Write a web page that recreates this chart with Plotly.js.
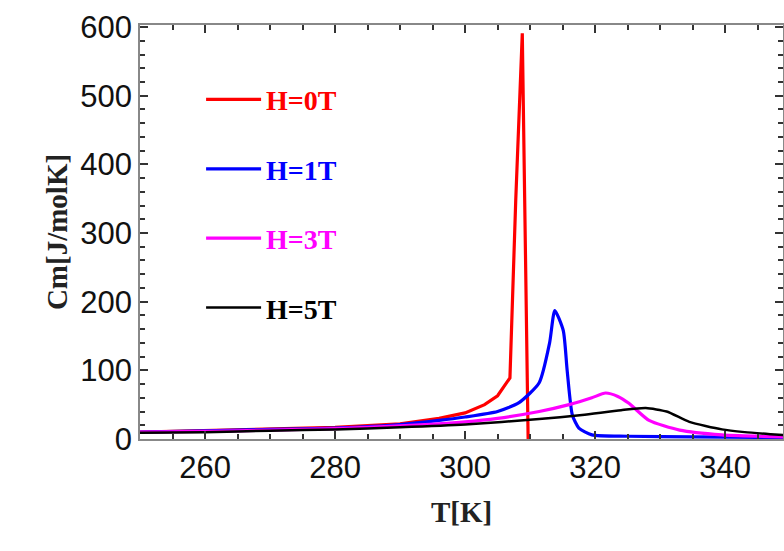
<!DOCTYPE html>
<html>
<head>
<script src="https://cdn.plot.ly/plotly-3.0.1.min.js"></script>
<style>body{margin:0}</style>
</head>
<body>
<div id="chart" style="width:784px;height:551px"></div>
<script>
// Cm(T) curves
const tH0 = [250, 260, 270, 280, 290, 296, 300, 303, 305, 306.9, 307.8, 308.8, 309.7];
const cH0 = [10, 12, 14, 17, 22, 30, 38, 50, 63, 89, 350, 591, 0];
const tH1 = [250, 260, 270, 280, 290, 296, 300, 305, 308.3, 311.4, 313, 313.8, 315.1, 315.7, 316.5, 317.5, 319.5, 325, 335, 350];
const cH1 = [10, 12, 14, 16, 21, 27, 32, 40, 53, 82, 140, 187, 158, 100, 35, 16, 6, 4, 3, 2];
const tH3 = [250, 260, 270, 280, 290, 300, 305, 311.4, 316, 319.5, 321.6, 323.5, 325.2, 328.3, 333, 339.5, 345, 350];
const cH3 = [10, 11, 13, 15, 19, 25, 30, 40, 50, 60, 67, 62, 52, 27, 13, 6, 4, 3];
const tH5 = [250, 260, 270, 280, 290, 300, 311.4, 318, 324, 327.8, 331, 334.5, 339.5, 343, 347, 350];
const cH5 = [9, 10, 12, 14, 17, 21, 29, 35, 42, 45, 40, 25, 14, 10, 7, 5];

const names = ['H=0T', 'H=1T', 'H=3T', 'H=5T'];
const colors = ['#ff0000', '#0000ff', '#ff00ff', '#000000'];
const xs = [tH0, tH1, tH3, tH5];
const ys = [cH0, cH1, cH3, cH5];

const data = xs.map((x, i) => ({
    x: x, y: ys[i], type: 'scatter', mode: 'lines', name: names[i],
    legendgroup: 'g' + i,
    line: {color: colors[i], width: i === 3 ? 2.5 : 3.2,
        shape: i === 0 ? 'linear' : 'spline', smoothing: 0.6},
}));

const axisBase = {
    showline: true, linecolor: '#888', linewidth: 1.5, mirror: 'ticks',
    ticks: 'inside', ticklen: 8, tickcolor: '#333', tickwidth: 1.5,
    showgrid: false, zeroline: false,
    tickfont: {family: 'Liberation Sans, Arial', size: 31, color: '#111'},
};

const titleFont = {family: 'Liberation Serif, Times New Roman', size: 29, color: '#222'};

const layout = {
    width: 784, height: 551,
    margin: {l: 140, r: 1, t: 25, b: 112},
    paper_bgcolor: 'white', plot_bgcolor: 'white',
    showlegend: true,
    legend: {
        x: 0.095, y: 0.88, xanchor: 'left', yanchor: 'top',
        font: {family: 'Liberation Serif, Times New Roman', size: 28, color: '#000'},
        tracegroupgap: 30, itemwidth: 55, bgcolor: 'rgba(0,0,0,0)',
    },
    xaxis: Object.assign({}, axisBase, {
        range: [250, 348.9], dtick: 20, tick0: 260,
        minor: {ticks: 'inside', ticklen: 5, dtick: 5, tickcolor: '#333'},
        title: {text: '<b>T[K]</b>', standoff: 18, font: titleFont},
    }),
    yaxis: Object.assign({}, axisBase, {
        range: [0, 603], dtick: 100,
        minor: {ticks: 'inside', ticklen: 5, dtick: 20, tickcolor: '#333'},
        title: {text: '<b>Cm[J/molK]</b>', standoff: 4, font: titleFont},
    }),
};

Plotly.newPlot('chart', data, layout, {displayModeBar: false}).then(() => {
    // colour legend texts like their lines, bold
    document.querySelectorAll('.legendtext').forEach((el, i) => {
        el.style.fill = colors[i];
        el.style.fontWeight = 'bold';
    });
});
</script>
</body>
</html>
